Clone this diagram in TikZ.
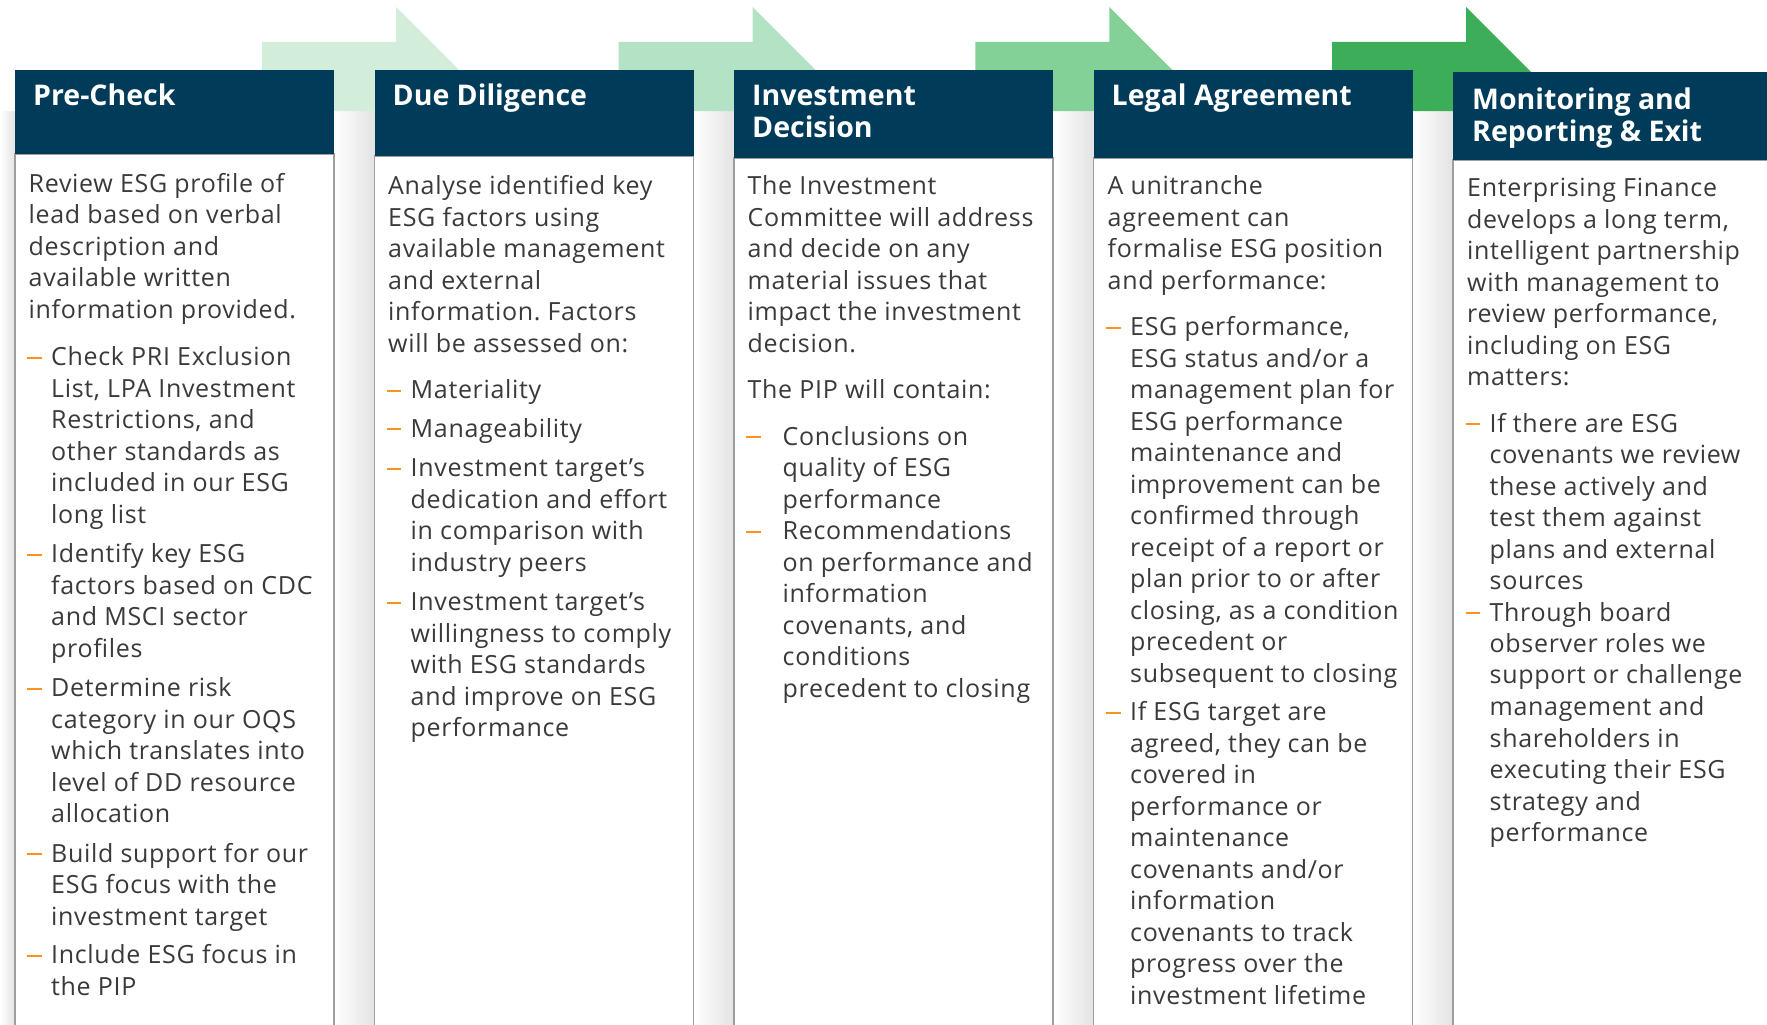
\documentclass[tikz,border=0pt]{standalone}
\usepackage{fontspec}
\setmainfont{Open Sans}
\newfontfamily\bodyfont[LetterSpace=2.7]{Open Sans}
\frenchspacing
\definecolor{navy}{HTML}{003B59}
\definecolor{txt}{HTML}{3A3A3A}
\definecolor{dashc}{HTML}{F7931E}
\definecolor{arA}{HTML}{D2EEDB}
\definecolor{arB}{HTML}{B3E2C4}
\definecolor{arC}{HTML}{84D197}
\definecolor{arD}{HTML}{3CAE5A}
\newcommand{\dashmark}{\hspace*{-1.5pt}\textcolor{dashc}{\rule[6.8pt]{14.5pt}{1.9pt}}}
\newcommand{\D}{\makebox[22.5pt][l]{\dashmark}}
\newcommand{\I}{\hspace*{22.5pt}}
\newcommand{\DW}{\makebox[35pt][l]{\dashmark}}
\newcommand{\IW}{\hspace*{35pt}}
\tikzset{
  hdrtext/.style={anchor=base west, inner sep=0, text=white, font=\fontsize{28.5}{31.5}\selectfont\bfseries},
  bodytext/.style={anchor=base west, inner sep=0, text=txt, font=\bodyfont\fontsize{25}{31.5}\selectfont\frenchspacing},
  bodybox/.style={fill=white, draw=black!38, line width=1.6pt},
  hdrbox/.style={fill=navy},
  gapshade/.style={left color=white, right color=black!11},
}
\begin{document}
\begin{tikzpicture}[x=1pt,y=-1pt]
\useasboundingbox (0,0) rectangle (1767,1025);
% shadows in the gaps
\shade[gapshade] (0,111) rectangle (15,1025);
\foreach \xa/\xb in {334/374.5, 693.5/734, 1053/1093.5, 1412.5/1453}{
  \shade[gapshade] (\xa,111) rectangle (\xb,1025);
}
% arrows
\foreach \L/\c in {262/arA, 618.7/arB, 975.3/arC, 1332/arD}{
  \fill[\c] (\L,42) -- (\L+134,42) -- (\L+134,7) -- (\L+203.5,76.5) -- (\L+134,146) -- (\L+134,111) -- (\L,111) -- cycle;
}
% bodies
\draw[bodybox] (15,154) rectangle (334,1040);
\draw[bodybox] (374.5,156) rectangle (693.5,1040);
\draw[bodybox] (734,158) rectangle (1053,1040);
\draw[bodybox] (1093.5,158) rectangle (1412.5,1040);
\draw[bodybox] (1453,160) rectangle (1772,1040);
% headers
\fill[hdrbox] (15,70) rectangle (334,154);
\fill[hdrbox] (374.5,70) rectangle (693.5,156);
\fill[hdrbox] (734,70) rectangle (1053,158);
\fill[hdrbox] (1093.5,70) rectangle (1412.5,158);
\fill[hdrbox] (1453,72) rectangle (1772,160);
% titles
\node[hdrtext] (h1) at (33,106) {Pre-Check};
\node[hdrtext] (h2) at (392.5,106) {Due Diligence};
\node[hdrtext] (h3) at (752,106) {\begin{tabular}[t]{@{}l@{}}Investment\\Decision\end{tabular}};
\node[hdrtext] (h4) at (1111.5,106) {Legal Agreement};
\node[hdrtext] (h5) at (1472,110) {\begin{tabular}[t]{@{}l@{}}Monitoring and\\Reporting \& Exit\end{tabular}};
% column 1
\node[bodytext] (c1) at (28.5,192) {\begin{tabular}[t]{@{}l@{}}
Review ESG profile of\\
lead based on verbal\\
description and\\
available written\\
information provided.\\[16pt]
\D Check PRI Exclusion\\
\I List, LPA Investment\\
\I Restrictions, and\\
\I other standards as\\
\I included in our ESG\\
\I long list\\[8pt]
\D Identify key ESG\\
\I factors based on CDC\\
\I and MSCI sector\\
\I profiles\\[8pt]
\D Determine risk\\
\I category in our OQS\\
\I which translates into\\
\I level of DD resource\\
\I allocation\\[8pt]
\D Build support for our\\
\I ESG focus with the\\
\I investment target\\[7pt]
\D Include ESG focus in\\
\I the PIP
\end{tabular}};
% column 2
\node[bodytext] (c2) at (388,194.5) {\begin{tabular}[t]{@{}l@{}}
Analyse identified key\\
ESG factors using\\
available management\\
and external\\
information. Factors\\
will be assessed on:\\[15pt]
\D Materiality\\[7pt]
\D Manageability\\[8pt]
\D Investment target’s\\
\I dedication and effort\\
\I in comparison with\\
\I industry peers\\[8pt]
\D Investment target’s\\
\I willingness to comply\\
\I with ESG standards\\
\I and improve on ESG\\
\I performance
\end{tabular}};
% column 3
\node[bodytext] (c3) at (747.5,194.5) {\begin{tabular}[t]{@{}l@{}}
The Investment\\
Committee will address\\
and decide on any\\
material issues that\\
impact the investment\\
decision.\\[15pt]
The PIP will contain:\\[15pt]
\DW Conclusions on\\
\IW quality of ESG\\
\IW performance\\
\DW Recommendations\\
\IW on performance and\\
\IW information\\
\IW covenants, and\\
\IW conditions\\
\IW precedent to closing
\end{tabular}};
% column 4
\node[bodytext] (c4) at (1107.5,194.5) {\begin{tabular}[t]{@{}l@{}}
A unitranche\\
agreement can\\
formalise ESG position\\
and performance:\\[15pt]
\D ESG performance,\\
\I ESG status and/or a\\
\I management plan for\\
\I ESG performance\\
\I maintenance and\\
\I improvement can be\\
\I confirmed through\\
\I receipt of a report or\\
\I plan prior to or after\\
\I closing, as a condition\\
\I precedent or\\
\I subsequent to closing\\[7pt]
\D If ESG target are\\
\I agreed, they can be\\
\I covered in\\
\I performance or\\
\I maintenance\\
\I covenants and/or\\
\I information\\
\I covenants to track\\
\I progress over the\\
\I investment lifetime
\end{tabular}};
% column 5
\node[bodytext] (c5) at (1467,196.5) {\begin{tabular}[t]{@{}l@{}}
Enterprising Finance\\
develops a long term,\\
intelligent partnership\\
with management to\\
review performance,\\
including on ESG\\
matters:\\[15pt]
\D If there are ESG\\
\I covenants we review\\
\I these actively and\\
\I test them against\\
\I plans and external\\
\I sources\\
\D Through board\\
\I observer roles we\\
\I support or challenge\\
\I management and\\
\I shareholders in\\
\I executing their ESG\\
\I strategy and\\
\I performance
\end{tabular}};
\end{tikzpicture}
\end{document}
